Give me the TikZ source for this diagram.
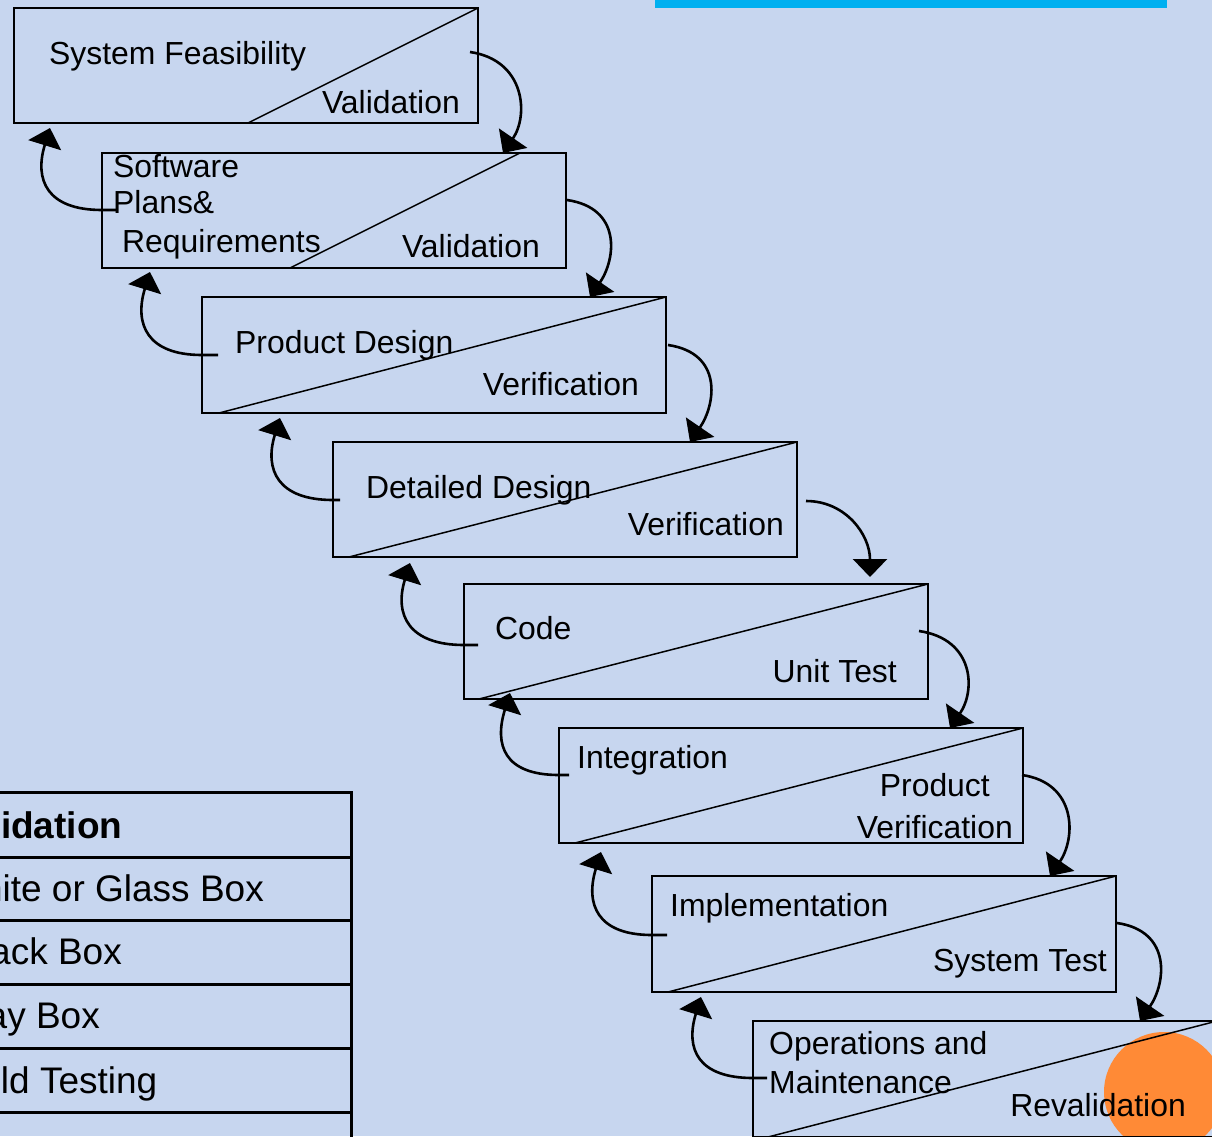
\documentclass[tikz,border=0pt]{standalone}
\usepackage{fontspec}
\setmainfont{Liberation Sans}
\usetikzlibrary{arrows.meta}
\definecolor{bg}{HTML}{C7D6EF}
\definecolor{barblue}{HTML}{00B0F0}
\definecolor{orng}{HTML}{FF8A36}
\begin{document}
\begin{tikzpicture}[x=1pt,y=1pt,
  stage/.style={draw=black, line width=1.6pt, anchor=north west, minimum width=464pt, minimum height=115pt, inner sep=0pt, outer sep=0pt},
  diag/.style={line width=1.5pt},
  lbl/.style={font=\fontsize{31.9}{38}\selectfont, inner sep=0pt, anchor=base west},
  lblr/.style={font=\fontsize{31.9}{38}\selectfont, inner sep=0pt, anchor=base east},
  flow/.style={line width=2.6pt, -{Triangle[width=34pt,length=18pt]}},
  tbl/.style={line width=3pt},
  cell/.style={font=\fontsize{37}{44}\selectfont, inner sep=0pt, anchor=base east}]
\useasboundingbox (0,0) rectangle (1212,-1136);
\clip (0,0) rectangle (1212,-1136);
\fill[bg] (0,0) rectangle (1212,-1136);
% top bar and orange dot
\fill[barblue] (655,0) rectangle (1167,-8);
\fill[orng] (1164,-1092) circle (60);
% table
\draw[tbl] (-10,-792) -- (351,-792) -- (351,-1140);
\foreach \yy in {857,920,984,1048,1112} \draw[tbl] (-10,-\yy) -- (351,-\yy);
\node[cell] (c1) at (122.5,-838) {\textbf{Validation}};
\node[cell] (c2) at (264,-901) {White or Glass Box};
\node[cell] (c3) at (122,-964) {Black Box};
\node[cell] (c4) at (100,-1028) {Gray Box};
\node[cell] (c5) at (157.5,-1093) {Field Testing};
% stages
\node[stage] (s1) at (14,-8) {};
\node[stage] (s2) at (102,-153) {};
\node[stage, minimum height=116pt] (s3) at (202,-297) {};
\node[stage] (s4) at (333,-442) {};
\node[stage] (s5) at (464,-584) {};
\node[stage] (s6) at (559,-728) {};
\node[stage, minimum height=116pt] (s7) at (652,-876) {};
\node[stage, minimum height=116pt] (s8) at (753,-1021) {};
% diagonals
\coordinate (d1) at (248,-123);
\coordinate (d2a) at (290,-268);
\coordinate (d2b) at (520,-153);
\coordinate (d3) at (219,-413);
\coordinate (d4) at (349,-557);
\coordinate (d5) at (479,-699);
\coordinate (d6) at (575,-843);
\coordinate (d7) at (668,-992);
\coordinate (d8) at (768,-1137);
\draw[diag] (d1) -- (s1.north east);
\draw[diag] (d2a) -- (d2b);
\draw[diag] (d3) -- (s3.north east);
\draw[diag] (d4) -- (s4.north east);
\draw[diag] (d5) -- (s5.north east);
\draw[diag] (d6) -- (s6.north east);
\draw[diag] (d7) -- (s7.north east);
\draw[diag] (d8) -- (s8.north east);
% labels
\node[lbl] (t1a) at (49,-64) {System Feasibility};
\node[lblr] (t1b) at (460,-113) {Validation};
\node[lbl] (t2a) at (113,-177) {Software};
\node[lbl] (t2b) at (113,-213) {Plans\&};
\node[lbl] (t2c) at (122,-252) {Requirements};
\node[lblr] (t2d) at (540,-257) {Validation};
\node[lbl] (t3a) at (235,-353) {Product Design};
\node[lblr] (t3b) at (639,-395) {Verification};
\node[lbl] (t4a) at (366,-498) {Detailed Design};
\node[lblr] (t4b) at (784,-535) {Verification};
\node[lbl] (t5a) at (495,-639) {Code};
\node[lblr] (t5b) at (897,-682) {Unit Test};
\node[lbl] (t6a) at (577,-768) {Integration};
\node[lblr] (t6b) at (990,-796) {Product};
\node[lblr] (t6c) at (1013,-838) {Verification};
\node[lbl] (t7a) at (670,-916) {Implementation};
\node[lblr] (t7b) at (1107,-971) {System Test};
\node[lbl] (t8a) at (769,-1054) {Operations and};
\node[lbl] (t8b) at (769,-1093) {Maintenance};
\node[lblr] (t8c) at (1186,-1116) {Revalidation};
% forward arrows
\coordinate (r1s) at (470,-52);   \coordinate (r1e) at (503,-153);
\coordinate (r2s) at (567,-200);  \coordinate (r2e) at (590,-297);
\coordinate (r3s) at (668,-345);  \coordinate (r3e) at (690,-442);
\coordinate (r4s) at (806,-501);  \coordinate (r4e) at (870,-577);
\coordinate (r5s) at (919,-631);  \coordinate (r5e) at (950,-728);
\coordinate (r6s) at (1022,-775); \coordinate (r6e) at (1050,-876);
\coordinate (r7s) at (1117,-923); \coordinate (r7e) at (1140,-1021);
\draw[flow] (r1s) .. controls +(55,-8) and +(26,38) .. (r1e);
\draw[flow] (r2s) .. controls +(55,-8) and +(26,38) .. (r2e);
\draw[flow] (r3s) .. controls +(55,-8) and +(26,38) .. (r3e);
\draw[flow] (r4s) .. controls +(40,0) and +(0,42) .. (r4e);
\draw[flow] (r5s) .. controls +(55,-8) and +(26,38) .. (r5e);
\draw[flow] (r6s) .. controls +(55,-8) and +(26,38) .. (r6e);
\draw[flow] (r7s) .. controls +(55,-8) and +(26,38) .. (r7e);
% backward arrows
\coordinate (l1s) at (102,-210); \coordinate (l1k) at (117,-210); \coordinate (l1e) at (50,-128);
\coordinate (l2s) at (202,-355); \coordinate (l2k) at (218,-355); \coordinate (l2e) at (150,-272);
\coordinate (l3s) at (333,-500); \coordinate (l3k) at (340,-500); \coordinate (l3e) at (280,-418);
\coordinate (l4s) at (464,-645); \coordinate (l4k) at (478,-645); \coordinate (l4e) at (410,-563);
\coordinate (l5s) at (559,-775); \coordinate (l5k) at (569,-775); \coordinate (l5e) at (510,-693);
\coordinate (l6s) at (652,-935); \coordinate (l6k) at (667,-935); \coordinate (l6e) at (601,-852);
\coordinate (l7s) at (753,-1078); \coordinate (l7k) at (767,-1078); \coordinate (l7e) at (701,-997);
\foreach \i in {1,...,7}
  \draw[flow] (l\i k) -- (l\i s) .. controls +(-55,0) and +(-16,-52) .. (l\i e);
\end{tikzpicture}
\end{document}
